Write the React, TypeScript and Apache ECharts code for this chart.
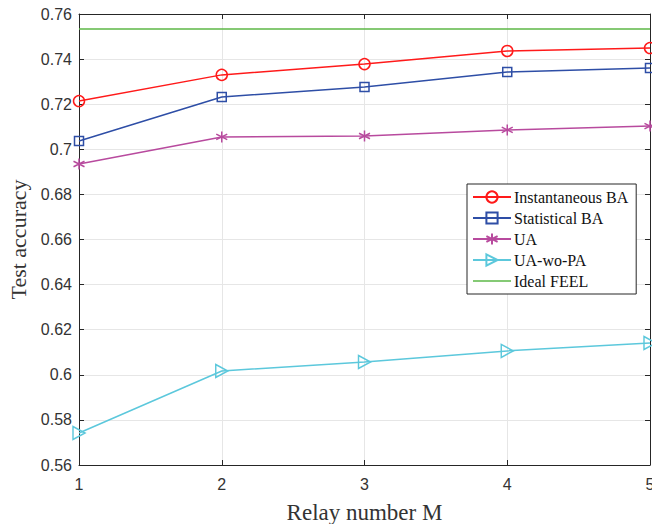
import React, { useEffect, useRef } from "react";
import * as echarts from "echarts";

const relayNumbers = [1, 2, 3, 4, 5];
const instantaneousBA = [0.7214, 0.733, 0.7378, 0.7436, 0.7449];
const statisticalBA = [0.7037, 0.7232, 0.7276, 0.7343, 0.7361];
const ua = [0.6935, 0.7055, 0.7059, 0.7086, 0.7103];
const uaWoPA = [0.5742, 0.6017, 0.6057, 0.6106, 0.6141];
const idealFEEL = [0.7533, 0.7533, 0.7533, 0.7533, 0.7533];
const seriesNames = ["Instantaneous BA", "Statistical BA", "UA", "UA-wo-PA", "Ideal FEEL"];

const ASTERISK = "path://M0,-1L0,1M-0.87,-0.5L0.87,0.5M-0.87,0.5L0.87,-0.5";
const TRI_RIGHT = "path://M0,0L1,0.5L0,1Z";
const LINE_ICON = "path://M0,0L25,0L25,1L0,1Z";

export default function App() {
  const ref = useRef<HTMLDivElement>(null);
  useEffect(() => {
    if (!ref.current) return;
    const chart = echarts.init(ref.current, undefined, { renderer: "svg" });
    const pair = (ys: number[]) => relayNumbers.map((x, i) => [x, ys[i]]);
    const mk = (name: string, ys: number[], color: string, symbol: string, size?: number | number[]) => {
      const s: any = {
        name,
        type: "line",
        data: pair(ys),
        symbol,
        lineStyle: { color, width: 1.5 },
        itemStyle: { color: "rgba(255,255,255,0)", borderColor: color, borderWidth: 1.5 },
        emphasis: { disabled: true },
      };
      if (size !== undefined) s.symbolSize = size;
      return s;
    };
    const axisCommon = {
      axisLine: { show: true, lineStyle: { color: "#262626", width: 1 } },
      axisTick: { show: true, inside: true, length: 5, lineStyle: { color: "#262626" } },
    };
    chart.setOption({
      animation: false,
      textStyle: { fontFamily: "Liberation Sans" },
      grid: { left: 79, top: 14, right: 2, bottom: 59, outerBoundsMode: "none" },
      legend: {
        left: 467,
        top: 184,
        orient: "vertical",
        padding: [5, 8, 5, 5],
        itemGap: 5,
        itemWidth: 38,
        itemHeight: 14,
        backgroundColor: "#fff",
        borderColor: "#262626",
        borderWidth: 1,
        textStyle: { fontFamily: "Liberation Serif", fontSize: 16, color: "#111", padding: [0, 0, 0, -2] },
        data: [
          { name: seriesNames[0] },
          { name: seriesNames[1] },
          { name: seriesNames[2] },
          { name: seriesNames[3] },
          { name: seriesNames[4], icon: LINE_ICON, itemStyle: { color: "#5db847", borderWidth: 0 } },
        ],
      },
      xAxis: [
        {
          type: "value",
          min: 1,
          max: 5,
          interval: 1,
          name: "Relay number M",
          nameLocation: "middle",
          nameGap: 36,
          nameTextStyle: { fontFamily: "Liberation Serif", fontSize: 23, color: "#333" },
          axisLabel: { fontSize: 16, color: "#333", margin: 11 },
          splitLine: { show: true, lineStyle: { color: "#e6e6e6" } },
          ...axisCommon,
        },
        {
          type: "value",
          position: "top",
          min: 1,
          max: 5,
          interval: 1,
          axisLabel: { show: false },
          splitLine: { show: false },
          ...axisCommon,
        },
      ],
      yAxis: [
        {
          type: "value",
          min: 0.56,
          max: 0.76,
          interval: 0.02,
          name: "Test accuracy",
          nameLocation: "middle",
          nameGap: 50,
          nameTextStyle: { fontFamily: "Liberation Serif", fontSize: 22, color: "#333" },
          axisLabel: {
            fontSize: 16,
            color: "#333",
            margin: 7,
            formatter: (v: number) => String(parseFloat(v.toFixed(2))),
          },
          splitLine: { show: true, lineStyle: { color: "#e6e6e6" } },
          ...axisCommon,
        },
        {
          type: "value",
          position: "right",
          min: 0.56,
          max: 0.76,
          interval: 0.02,
          axisLabel: { show: false },
          splitLine: { show: false },
          ...axisCommon,
        },
      ],
      series: [
        mk(seriesNames[0], instantaneousBA, "#ff1a1a", "circle", 11),
        mk(seriesNames[1], statisticalBA, "#2e4ea6", "rect", 9),
        mk(seriesNames[2], ua, "#b84a9e", ASTERISK, 11),
        mk(seriesNames[3], uaWoPA, "#5cc8dc", TRI_RIGHT, [12, 13]),
        { ...mk(seriesNames[4], idealFEEL, "#5db847", "none"), showSymbol: false },
      ],
    });
    return () => chart.dispose();
  }, []);
  return <div ref={ref} style={{ position: "absolute", left: 0, top: 0, width: 652, height: 524 }} />;
}
